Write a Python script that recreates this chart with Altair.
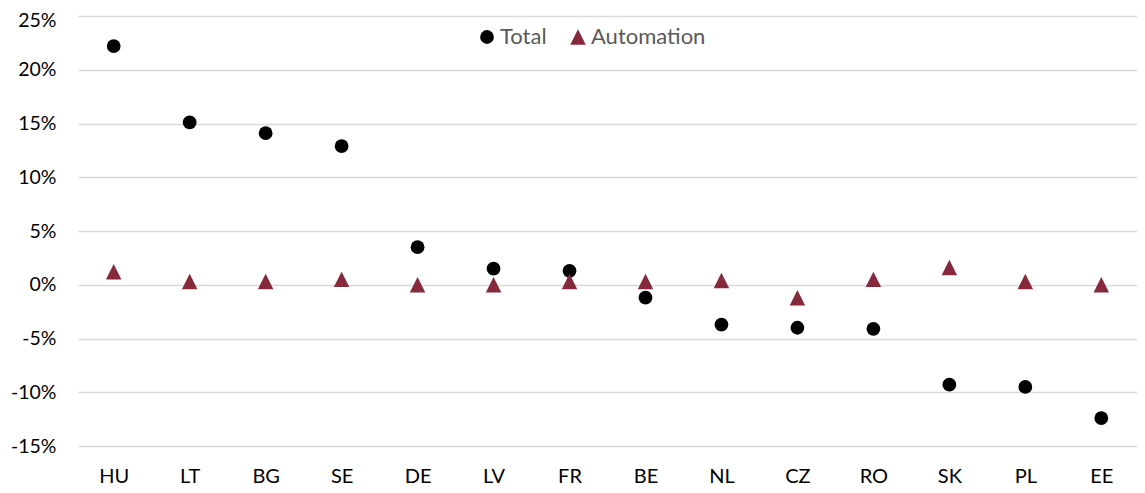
import altair as alt
import pandas as pd

countries = ["HU", "LT", "BG", "SE", "DE", "LV", "FR", "BE", "NL", "CZ", "RO", "SK", "PL", "EE"]
total = [22.2, 15.1, 14.1, 12.9, 3.5, 1.5, 1.3, -1.2, -3.7, -4.0, -4.1, -9.3, -9.5, -12.4]
automation = [1.2, 0.3, 0.3, 0.5, 0.0, 0.0, 0.3, 0.3, 0.4, -1.2, 0.5, 1.6, 0.3, 0.0]
series_names = ["Total", "Automation"]
series_colors = ["#000000", "#86293D"]
series_shapes = ["circle", "M-1,1L1,1L0,-1Z"]
series_sizes = [190, 240]
y_ticks = [-0.15, -0.10, -0.05, 0.0, 0.05, 0.10, 0.15, 0.20, 0.25]

rows = []
for c, t, a in zip(countries, total, automation):
    rows.append({"country": c, "series": "Total", "value": t / 100})
    rows.append({"country": c, "series": "Automation", "value": a / 100})
df = pd.DataFrame(rows)

FONT = "Lato"

legend = alt.Legend(
    title=None,
    orient="none",
    legendX=398,
    legendY=10,
    direction="horizontal",
    labelFont=FONT,
    labelFontSize=22,
    labelColor="#595959",
    symbolSize=200,
    symbolStrokeWidth=0,
    labelOffset=2,
    columnPadding=20,
)

chart = alt.Chart(df).mark_point(filled=True, opacity=1).encode(
    x=alt.X("country:N", sort=countries, title=None,
            scale=alt.Scale(type="point", padding=0.47),
            axis=alt.Axis(labelAngle=0, ticks=False, domain=False, grid=False,
                          labelFont=FONT, labelFontSize=20, labelColor="#000000",
                          labelPadding=20)),
    y=alt.Y("value:Q", title=None,
            scale=alt.Scale(domain=[-0.15, 0.25], nice=False, zero=False),
            axis=alt.Axis(values=y_ticks, ticks=False, domain=False,
                          labelExpr="replace(format(datum.value, '.0%'), '\u2212', '-')",
                          labelBaseline=alt.expr("datum.value > 0.24 ? 'top' : 'middle'"),
                          labelOffset=alt.expr("datum.value > 0.24 ? -5 : 0"),
                          labelFont=FONT, labelFontSize=19.5, labelColor="#000000",
                          labelPadding=22, gridColor="#d9d9d9", gridWidth=1.6)),
    color=alt.Color("series:N", scale=alt.Scale(domain=series_names, range=series_colors), legend=legend),
    shape=alt.Shape("series:N", scale=alt.Scale(domain=series_names, range=series_shapes), legend=legend),
    size=alt.Size("series:N", scale=alt.Scale(domain=series_names, range=series_sizes), legend=None),
).properties(
    width=1059,
    height=430,
    autosize=alt.AutoSizeParams(type="none"),
    padding={"left": 70, "top": 8, "right": 0, "bottom": 40},
).configure_view(stroke=None)

chart.save("out.html", embed_options={"renderer": "svg", "actions": False})
